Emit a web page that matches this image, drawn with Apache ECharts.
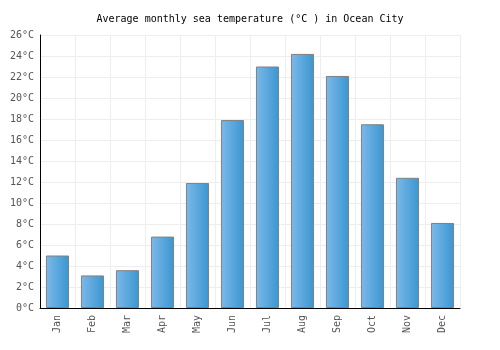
<!DOCTYPE html>
<html>
<head>
<meta charset="utf-8">
<script src="https://cdn.jsdelivr.net/npm/echarts@6/dist/echarts.min.js"></script>
<style>
  html, body { margin: 0; padding: 0; background: #fff; }
  #chart { width: 500px; height: 350px; }
</style>
</head>
<body>
<div id="chart"></div>
<script>
var months = ["Jan", "Feb", "Mar", "Apr", "May", "Jun", "Jul", "Aug", "Sep", "Oct", "Nov", "Dec"];
var seaTemp = [5.0, 3.1, 3.6, 6.8, 11.9, 17.9, 23.0, 24.2, 22.1, 17.5, 12.4, 8.1];

var font = "DejaVu Sans Mono";
var chart = echarts.init(document.getElementById("chart"));
chart.setOption({
  animation: false,
  title: {
    text: "Average monthly sea temperature (°C ) in Ocean City",
    left: "center",
    top: 9,
    textStyle: { fontFamily: font, fontSize: 10, fontWeight: "normal", color: "#000" }
  },
  grid: { left: 40, right: 40, top: 35, bottom: 42 },
  xAxis: {
    type: "category",
    data: months,
    axisLine: { lineStyle: { color: "#000", width: 1 } },
    axisTick: { show: false },
    axisLabel: { rotate: 90, color: "#555", fontFamily: font, fontSize: 10, margin: 7, interval: 0 },
    splitLine: { show: true, interval: 0, lineStyle: { color: "#eee" } }
  },
  yAxis: {
    type: "value",
    min: 0,
    max: 26,
    interval: 2,
    axisLine: { show: true, lineStyle: { color: "#000", width: 1 } },
    axisTick: { show: false },
    axisLabel: { formatter: "{value}°C", color: "#555", fontFamily: font, fontSize: 10, margin: 6 },
    splitLine: { lineStyle: { color: "#eee" } }
  },
  series: [{
    type: "bar",
    data: seaTemp,
    barWidth: "66%",
    itemStyle: {
      color: new echarts.graphic.LinearGradient(0, 0, 1, 0, [
        { offset: 0, color: "#7cb9ea" },
        { offset: 1, color: "#3a96d0" }
      ]),
      borderColor: "#808080",
      borderWidth: 1
    }
  }]
});
</script>
</body>
</html>
